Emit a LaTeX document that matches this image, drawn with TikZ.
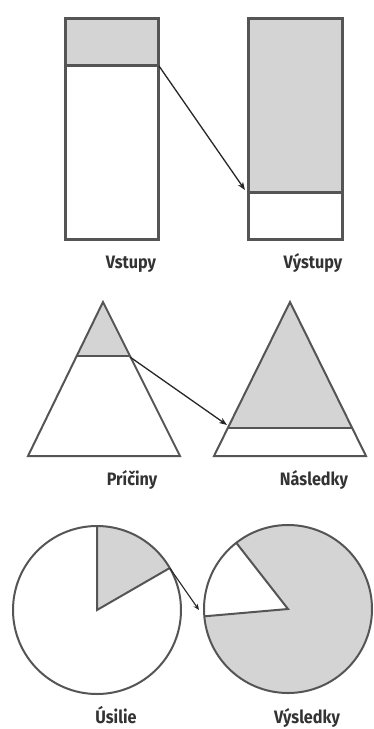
\documentclass[tikz,border=0pt]{standalone}
\usepackage{fontspec}
\setmainfont{Fira Sans}[FakeStretch=0.9]
\usetikzlibrary{arrows.meta,calc}
\definecolor{edge}{HTML}{555555}
\definecolor{panelgray}{HTML}{D4D4D4}
\tikzset{
  thick box/.style={draw=edge, line width=3pt},
  thin shape/.style={draw=edge, line width=2pt},
  label text/.style={font=\bfseries\fontsize{18}{20}\selectfont, text=black!80, inner sep=0pt, anchor=base},
  link/.style={draw=black!85, line width=1.3pt, -{Stealth[length=8pt,width=6pt]}},
}
\begin{document}
\begin{tikzpicture}[x=1pt,y=-1pt]
\useasboundingbox (0,0) rectangle (373,729);
% ---- rectangles ----
\fill[panelgray] (65,18) rectangle (158,65);
\fill[panelgray] (248,18) rectangle (342,192);
\draw[thick box] (65,18) rectangle (158,239);
\draw[thick box] (65,65) -- (158,65);
\draw[thick box] (248,18) rectangle (342,239);
\draw[thick box] (248,192) -- (342,192);
\coordinate (r1) at (159,66);
\coordinate (r2) at (245,190);
\draw[link] (r1) -- (r2);
\node[label text] (vstupy) at (131,268) {Vstupy};
\node[label text] (vystupy) at (313,268) {Výstupy};
% ---- triangles ----
\fill[panelgray] (103,302) -- (76.6,356) -- (129.4,356) -- cycle;
\fill[panelgray] (290,302) -- (228,428) -- (352,428) -- cycle;
\draw[thin shape, line join=miter] (103,302) -- (28,456) -- (180,456) -- cycle;
\draw[thin shape] (76.6,356) -- (129.4,356);
\draw[thin shape, line join=miter] (290,302) -- (214,456) -- (366,456) -- cycle;
\draw[thin shape] (228,428) -- (352,428);
\coordinate (t1) at (130,357);
\coordinate (t2) at (227,425);
\draw[link] (t1) -- (t2);
\node[label text] (priciny) at (132,485) {Príčiny};
\node[label text] (nasledky) at (314,485) {Následky};
% ---- circles ----
\coordinate (o1) at (97,610);
\coordinate (o2) at (288,609);
\fill[panelgray] (o1) -- ++(-30:84) arc[start angle=-30,end angle=-90,radius=84] -- cycle;
\draw[thin shape] (o1) circle[radius=84];
\draw[thin shape, line join=miter] ($(o1)+(-90:84)$) -- (o1) -- ++(-30:84);
\fill[panelgray] (o2) circle[radius=84];
\fill[white] (o2) -- ++(-128:84) arc[start angle=-128,end angle=-185,radius=84] -- cycle;
\draw[thin shape] (o2) circle[radius=84];
\draw[thin shape, line join=miter] ($(o2)+(-128:84)$) -- (o2) -- ++(-185:84);
\coordinate (c1) at ($(o1)+(-30:84)$);
\coordinate (c2) at (199,610);
\draw[link, line width=1.1pt, -{Stealth[length=6pt,width=5pt]}] (c1) -- (c2);
\node[label text] (usilie) at (116,723) {Úsilie};
\node[label text] (vysledky) at (307,723) {Výsledky};
\end{tikzpicture}
\end{document}
